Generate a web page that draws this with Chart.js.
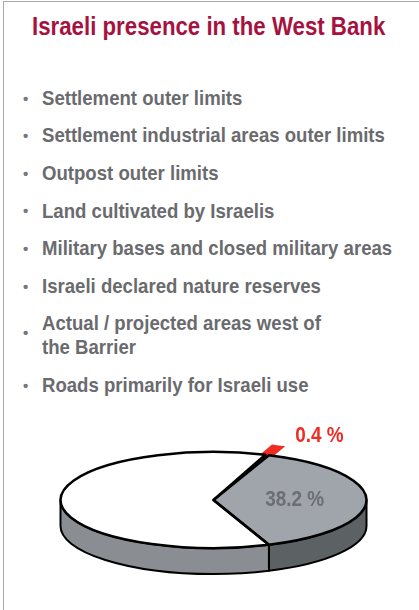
<!DOCTYPE html>
<html>
<head>
<meta charset="utf-8">
<script src="https://cdn.jsdelivr.net/npm/chart.js@4.4.0/dist/chart.umd.min.js"></script>
<style>
    html, body { margin: 0; padding: 0; background: #fff; }
    body { width: 419px; height: 610px; position: relative; overflow: hidden; font-family: "Liberation Sans", Arial, sans-serif; }
    .frame { position: absolute; left: 3px; top: 1px; right: -5px; bottom: -5px; border-left: 1px solid #a9a9a9; border-top: 1px solid #a9a9a9; }
    .title { position: absolute; left: 32px; top: 14px; font-size: 25px; line-height: 25px; font-weight: bold; color: #a6123f; white-space: nowrap; transform: scaleX(0.89); transform-origin: 0 0; }
    .item { position: absolute; left: 42px; font-size: 21px; line-height: 24px; font-weight: bold; color: #6a6b6e; white-space: nowrap; transform: scaleX(0.885); transform-origin: 0 0; }
    .dot { position: absolute; left: 23px; font-size: 15px; line-height: 15px; font-weight: bold; color: #76777a; }
    #pie { position: absolute; left: 0; top: 400px; }
</style>
</head>
<body>
<div class="frame"></div>
<div class="title">Israeli presence in the West Bank</div>
<div id="list"></div>
<canvas id="pie" width="419" height="200"></canvas>

<script>
// Legend / bullet text
const bulletItems = [
    'Settlement outer limits',
    'Settlement industrial areas outer limits',
    'Outpost outer limits',
    'Land cultivated by Israelis',
    'Military bases and closed military areas',
    'Israeli declared nature reserves',
    'Actual / projected areas west of\nthe Barrier',
    'Roads primarily for Israeli use'
];

// Pie data (percent of the West Bank)
const sliceNames = ['Exploded area', 'Israeli presence', 'Rest of the West Bank'];
const sliceValues = [0.4, 38.2, 61.4];

// ---------------- bullets ----------------
const list = document.getElementById('list');
let baseline = 105;
bulletItems.forEach(txt => {
    const lines = txt.split('\n');
    const item = document.createElement('div');
    item.className = 'item';
    item.style.top = (baseline - 19.3) + 'px';
    item.innerHTML = lines.join('<br>');
    list.appendChild(item);

    const dot = document.createElement('div');
    dot.className = 'dot';
    dot.textContent = '\u2022';
    // wrapped item has its bullet sitting lower
    const dotY = lines.length > 1 ? baseline + 2 : baseline - 7;
    dot.style.top = (dotY - 7.5) + 'px';
    list.appendChild(dot);

    baseline += 37.6 + 24 * (lines.length - 1);
});

// ---------------- 3D pie ----------------
const topColors = ['#ee2c24', '#a0a4ab', '#ffffff'];
const sideColors = ['#b81e18', '#5c6163', '#8a8e93'];
const labelColors = ['#ee2c24', '#6b6e72', null];
const tilt = 0.314;
const depth = 26;

function sideWall(ctx, x, y, r, s, e, color) {
    ctx.beginPath();
    ctx.ellipse(x, y, r, r * tilt, 0, s, e);
    ctx.ellipse(x, y + depth, r, r * tilt, 0, e, s, true);
    ctx.closePath();
    ctx.fillStyle = color;
    ctx.fill();
    ctx.lineWidth = 2;
    ctx.lineJoin = 'round';
    ctx.strokeStyle = '#000';
    ctx.stroke();
}

const pie3d = {
    id: 'pie3d',
    beforeDatasetsDraw(chart) {
        const ctx = chart.ctx;
        const arcs = chart.getDatasetMeta(0).data;
        arcs.forEach((arc, i) => {
            if (arc.options.offset) return;
            // only the front half of the rim is visible
            [0, 2 * Math.PI].forEach(base => {
                const s = Math.max(arc.startAngle, base);
                const e = Math.min(arc.endAngle, base + Math.PI);
                if (e > s) sideWall(ctx, arc.x, arc.y, arc.outerRadius, s, e, sideColors[i]);
            });
        });
        // squash the flat pie into an ellipse
        const c = arcs[0];
        ctx.save();
        ctx.translate(c.x, c.y);
        ctx.scale(1, tilt);
        ctx.translate(-c.x, -c.y);
    },
    afterDatasetsDraw(chart) {
        const ctx = chart.ctx;
        ctx.restore();
        const arcs = chart.getDatasetMeta(0).data;

        // outlines of the top faces
        arcs.forEach(arc => {
            if (arc.options.offset) return;
            ctx.beginPath();
            ctx.moveTo(arc.x, arc.y);
            ctx.ellipse(arc.x, arc.y, arc.outerRadius, arc.outerRadius * tilt, 0, arc.startAngle, arc.endAngle);
            ctx.closePath();
            ctx.lineWidth = 2.5;
            ctx.lineJoin = 'round';
            ctx.strokeStyle = '#000';
            ctx.stroke();
        });

        // value labels
        arcs.forEach((arc, i) => {
            if (!labelColors[i]) return;
            const mid = (arc.startAngle + arc.endAngle) / 2;
            const r = arc.outerRadius;
            const txt = sliceValues[i].toFixed(1) + ' %';
            ctx.save();
            ctx.font = 'bold 22px "Liberation Sans", Arial, sans-serif';
            ctx.fillStyle = labelColors[i];
            let px, py;
            if (arc.options.offset) {
                px = arc.x + Math.cos(mid) * r * 1.3 + 12;
                py = arc.y + Math.sin(mid) * r * 1.3 * tilt;
                ctx.textAlign = 'left';
                ctx.textBaseline = 'alphabetic';
            } else {
                px = arc.x + Math.cos(mid) * r * 0.53;
                py = arc.y + Math.sin(mid) * r * 0.53 * tilt;
                ctx.textAlign = 'center';
                ctx.textBaseline = 'middle';
            }
            ctx.translate(px, py);
            ctx.scale(0.86, 1);
            ctx.fillText(txt, 0, 0);
            ctx.restore();
        });
    }
};

new Chart(document.getElementById('pie').getContext('2d'), {
    type: 'pie',
    data: {
        labels: sliceNames,
        datasets: [{
            data: sliceValues,
            backgroundColor: topColors,
            borderColor: topColors,
            borderWidth: [14, 0, 0],
            borderJoinStyle: 'miter',
            offset: [52, 0, 0],
            clip: false
        }]
    },
    options: {
        responsive: false,
        animation: false,
        events: [],
        devicePixelRatio: 1,
        radius: 153,
        rotation: 19.8,
        layout: { padding: { left: 8, right: 0, top: 0, bottom: 0 } },
        plugins: {
            legend: { display: false },
            tooltip: { enabled: false }
        }
    },
    plugins: [pie3d]
});
</script>
</body>
</html>
